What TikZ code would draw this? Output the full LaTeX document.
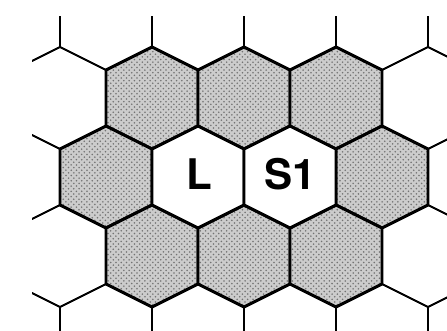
\documentclass[tikz,border=0pt]{standalone}
\usepackage{fontspec}
\setsansfont{TeX Gyre Heros}
\usetikzlibrary{patterns}

% contorno di una cella esagonale, a partire dal centro
\newcommand{\cella}{++(0,-51) -- ++(46,23) -- ++(0,56) -- ++(-46,23) -- ++(-46,-23) -- ++(0,-56) -- cycle}

\begin{document}
\begin{tikzpicture}[x=0.02cm, y=-0.02cm, line join=round]
  \tikzset{
    sottile/.style={draw, line width=0.9pt},
    grigia/.style={draw, line width=1.7pt, preaction={fill=black!20}, pattern=crosshatch dots, pattern color=black!55},
    bianca/.style={draw, fill=white, line width=1.7pt},
    etichetta/.style={font=\sffamily\bfseries\fontsize{24}{24}\selectfont, inner sep=0pt}
  }
  \useasboundingbox (0,0) rectangle (447,331);

  % Griglia esterna
  \begin{scope}
    \clip (32,17) rectangle (447,331);
    \foreach \r in {0,...,4}
      \foreach \k in {0,...,5} {
        \pgfmathsetmacro{\cx}{14+92*\k+46*mod(\r,2)}
        \pgfmathsetmacro{\cy}{19+79*\r}
        \draw[sottile] (\cx,\cy) \cella;
      }
  \end{scope}

  % Celle grigie intorno
  \foreach \cx/\cy in {152/98, 244/98, 336/98, 106/177, 382/177, 152/256, 244/256, 336/256}
    \draw[grigia] (\cx,\cy) \cella;

  % Celle centrali
  \draw[bianca] (198,177) \cella;
  \draw[bianca] (290,177) \cella;
  \node[etichetta] (L) at (199,174) {L};
  \node[etichetta] (S1) at (290,174) {S1};
\end{tikzpicture}
\end{document}
